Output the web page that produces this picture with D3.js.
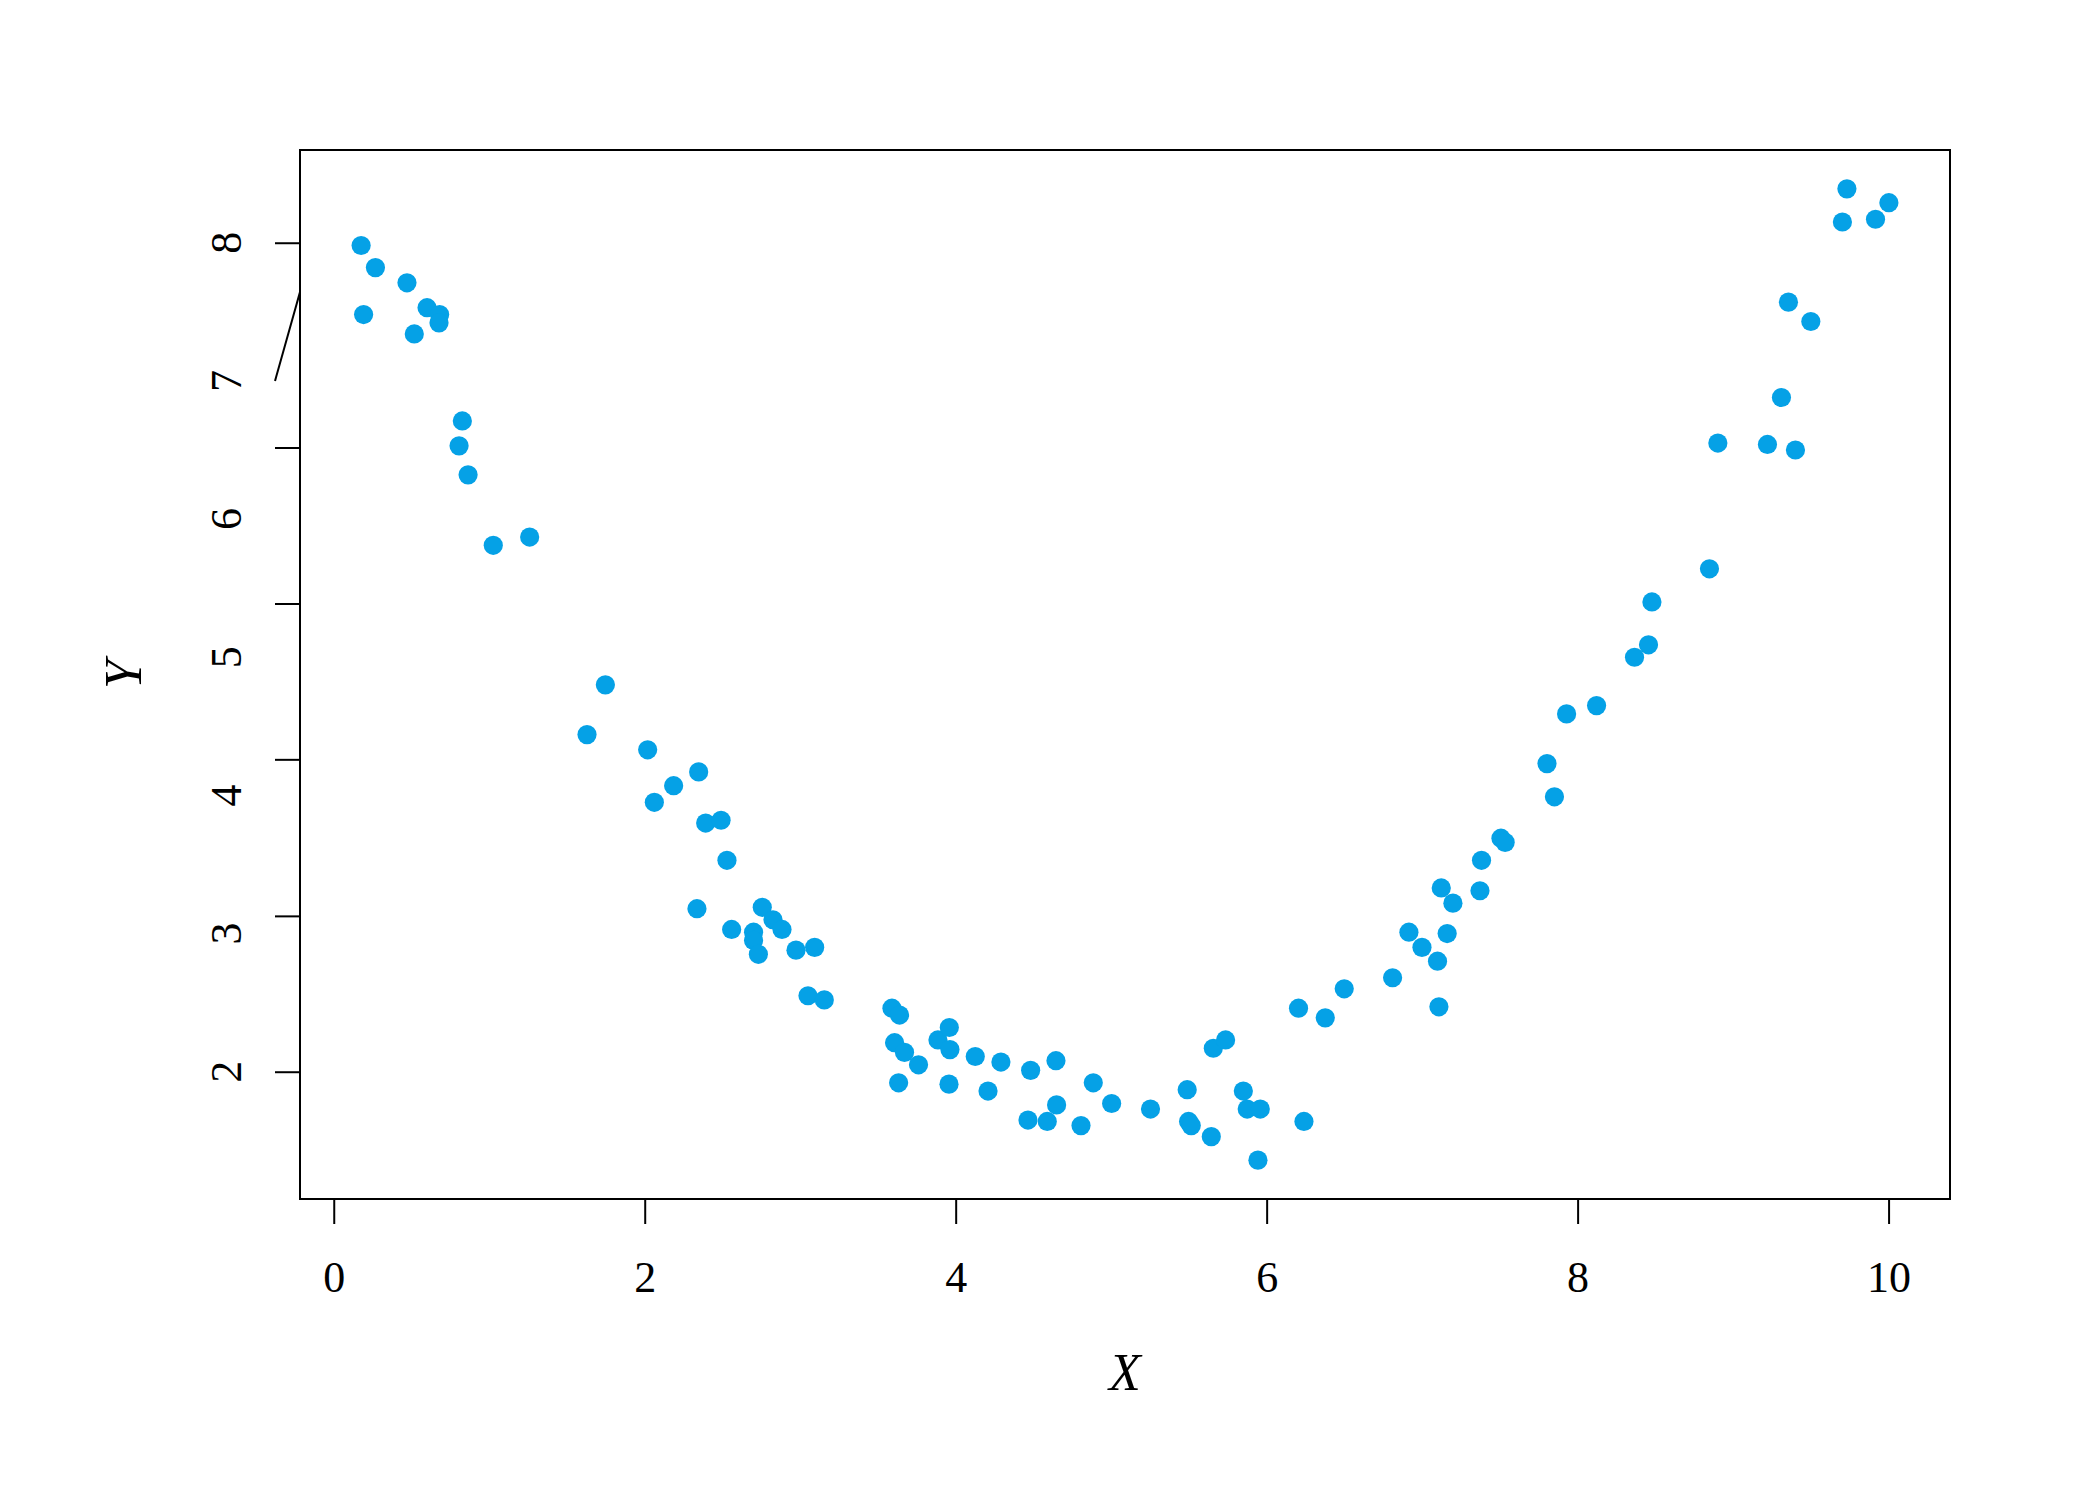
<!DOCTYPE html>
<html>
<head>
<meta charset="utf-8">
<script src="https://cdn.jsdelivr.net/npm/d3@7"></script>
<style>
  html, body { margin: 0; padding: 0; background: #ffffff; }
  svg { display: block; }
</style>
</head>
<body>
<svg id="chart" width="2100" height="1500"></svg>
<script>
// ---------------- data ----------------
const xValues = [
  0.176, 0.268, 0.192, 0.471, 0.600, 0.518, 0.681, 0.677, 0.827, 0.806,
  0.864, 1.026, 1.260, 1.629, 1.747, 2.019, 2.062, 2.186, 2.347, 2.392,
  2.491, 2.529, 2.336, 2.559, 2.756, 2.700, 2.700, 2.825, 2.883, 2.731,
  2.973, 3.093, 3.050, 3.155, 3.590, 3.639, 3.607, 3.671, 3.633, 3.761,
  3.886, 3.959, 3.963, 3.957, 4.126, 4.208, 4.291, 4.482, 4.645, 4.465,
  4.589, 4.649, 4.806, 4.885, 5.003, 5.253, 5.489, 5.498, 5.515, 5.644,
  5.657, 5.736, 5.850, 5.875, 5.959, 5.944, 6.205, 6.240, 6.377, 6.499,
  6.810, 6.915, 6.999, 7.123, 7.099, 7.161, 7.198, 7.108, 7.372, 7.382,
  7.507, 7.534, 7.803, 7.851, 7.929, 8.122, 8.366, 8.456, 8.478, 8.848,
  8.902, 9.221, 9.311, 9.401, 9.356, 9.500, 9.703, 9.732, 9.916, 10.002
];
const yValues = [
  7.98, 7.82, 7.48, 7.71, 7.53, 7.34, 7.48, 7.42, 6.71, 6.53,
  6.32, 5.81, 5.87, 4.44, 4.80, 4.33, 3.95, 4.07, 4.17, 3.80,
  3.82, 3.53, 3.18, 3.03, 3.19, 3.01, 2.95, 3.10, 3.03, 2.85,
  2.88, 2.90, 2.55, 2.52, 2.46, 2.41, 2.21, 2.14, 1.92, 2.05,
  2.23, 2.32, 2.16, 1.91, 2.11, 1.86, 2.07, 2.01, 2.08, 1.65,
  1.64, 1.76, 1.61, 1.92, 1.77, 1.73, 1.87, 1.64, 1.61, 1.53,
  2.17, 2.23, 1.86, 1.73, 1.73, 1.36, 2.46, 1.64, 2.39, 2.60,
  2.68, 3.01, 2.90, 3.33, 2.80, 3.00, 3.22, 2.47, 3.31, 3.53,
  3.69, 3.66, 4.23, 3.99, 4.59, 4.65, 5.00, 5.09, 5.40, 5.64,
  6.55, 6.54, 6.88, 6.50, 7.57, 7.43, 8.15, 8.39, 8.17, 8.29
];

const xTickValues = [0, 2, 4, 6, 8, 10];
const xTickLabels = ["0", "2", "4", "6", "8", "10"];

// y labels, and the (displaced) places where their tick marks are drawn
const yTickLabels = ["2", "3", "4", "5", "6", "7", "8"];
const yLabelValues = [2, 3, 4, 5, 6, 7, 8];
const yTickMarkValues = [2, 3.128, 4.261, 5.389, 6.518, 8];
const ySkewTick = { outer: 7.0, inner: 7.644 };   // the slanted tick near "7"

const xTitle = "X";
const yTitle = "Y";

// ---------------- layout ----------------
const W = 2100, H = 1500;
const box = { left: 300, right: 1950, top: 150, bottom: 1199 };
const tickLen = 25;
const dotColor = "#05a1e6";
const fontFamily = "'Liberation Serif', 'Times New Roman', serif";

function padded(ext) {
  const d = (ext[1] - ext[0]) * 0.04;
  return [ext[0] - d, ext[1] + d];
}

const x = d3.scaleLinear()
  .domain(padded(d3.extent(xValues)))
  .range([box.left, box.right]);
const y = d3.scaleLinear()
  .domain(padded(d3.extent(yValues)))
  .range([box.bottom, box.top]);

const svg = d3.select("#chart");
svg.append("rect").attr("width", W).attr("height", H).attr("fill", "#fff");

// points
svg.append("g")
  .selectAll("circle")
  .data(xValues.map((v, i) => [v, yValues[i]]))
  .join("circle")
  .attr("cx", d => x(d[0]))
  .attr("cy", d => y(d[1]))
  .attr("r", 9.6)
  .attr("fill", dotColor);

// frame
svg.append("rect")
  .attr("x", box.left).attr("y", box.top)
  .attr("width", box.right - box.left).attr("height", box.bottom - box.top)
  .attr("fill", "none").attr("stroke", "#000").attr("stroke-width", 2);

// x axis
const gx = svg.append("g")
  .attr("transform", `translate(0,${box.bottom})`)
  .call(d3.axisBottom(x).tickValues(xTickValues).tickSize(tickLen)
        .tickFormat((d, i) => xTickLabels[i]));
gx.select(".domain").remove();
gx.selectAll(".tick line").attr("stroke", "#000").attr("stroke-width", 2);
gx.selectAll(".tick text")
  .attr("y", 93).attr("dy", null)
  .attr("fill", "#000")
  .style("font-family", fontFamily).style("font-size", "44px");

// y axis tick marks
const gy = svg.append("g")
  .attr("transform", `translate(${box.left},0)`)
  .call(d3.axisLeft(y).tickValues(yTickMarkValues).tickSize(tickLen).tickFormat(""));
gy.select(".domain").remove();
gy.selectAll(".tick line").attr("stroke", "#000").attr("stroke-width", 2);

// slanted tick
svg.append("line")
  .attr("x1", box.left - tickLen).attr("y1", y(ySkewTick.outer))
  .attr("x2", box.left).attr("y2", y(ySkewTick.inner))
  .attr("stroke", "#000").attr("stroke-width", 2);

// y labels (rotated, as in R)
svg.append("g")
  .selectAll("text")
  .data(yLabelValues)
  .join("text")
  .attr("transform", d => `translate(241,${y(d)}) rotate(-90)`)
  .attr("text-anchor", "middle")
  .style("font-family", fontFamily).style("font-size", "44px")
  .attr("fill", "#000")
  .text((d, i) => yTickLabels[i]);

// titles
svg.append("text")
  .attr("x", (box.left + box.right) / 2).attr("y", 1390)
  .attr("text-anchor", "middle")
  .style("font-family", fontFamily).style("font-size", "52px").style("font-style", "italic")
  .text(xTitle);

svg.append("text")
  .attr("transform", `translate(141,${(box.top + box.bottom) / 2}) rotate(-90)`)
  .attr("text-anchor", "middle")
  .style("font-family", fontFamily).style("font-size", "52px").style("font-style", "italic")
  .text(yTitle);
</script>
</body>
</html>
